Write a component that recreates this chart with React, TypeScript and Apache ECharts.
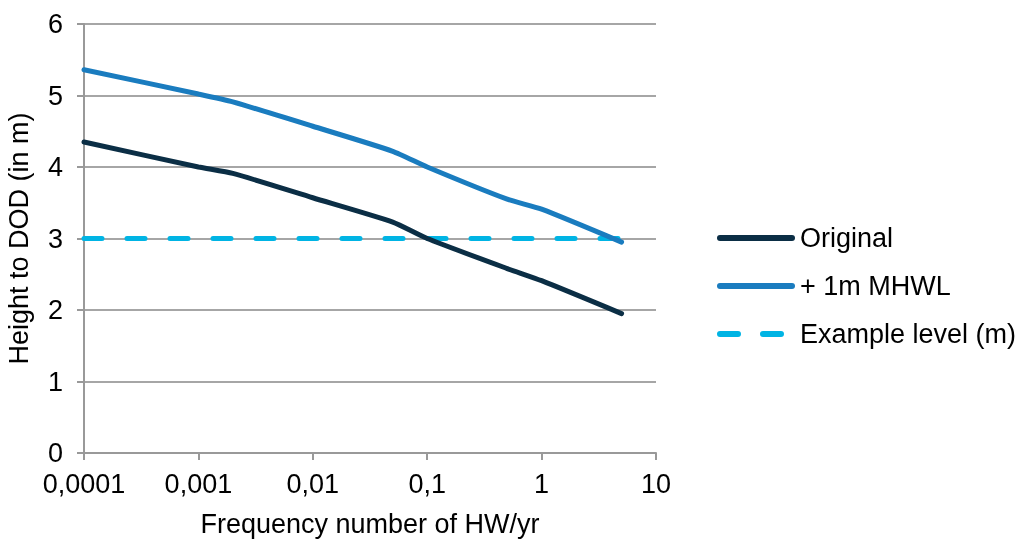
import React, { useEffect, useRef } from "react";
import * as echarts from "echarts";

const frequencies = [0.0001, 0.001, 0.002, 0.01, 0.05, 0.1, 0.5, 1, 5];
const originalHeights = [4.35, 4.0, 3.91, 3.57, 3.23, 3.0, 2.58, 2.41, 1.95];
const mhwlHeights = [5.36, 5.02, 4.91, 4.57, 4.22, 4.0, 3.55, 3.41, 2.95];
const exampleFrequencies = [0.0001, 5];
const exampleLevels = [3, 3];
const seriesNames = ["Original", "+ 1m MHWL", "Example level (m)"];
const xTitle = "Frequency number of HW/yr";
const yTitle = "Height to DOD (in m)";

const FONT = "Liberation Sans, Arial, sans-serif";
const FS = 27;

export default function App() {
  const ref = useRef<HTMLDivElement>(null);
  useEffect(() => {
    if (!ref.current) return;
    const chart = echarts.init(ref.current, null, { renderer: "svg" });
    const fmt = (v: number) => {
      const n = Number(v.toPrecision(6));
      return String(n).replace(".", ",");
    };
    chart.setOption({
      animation: false,
      textStyle: { fontFamily: FONT },
      grid: { left: 84, right: 366, top: 24, bottom: 86, outerBoundsMode: "none", containLabel: false },
      legend: {
        orient: "vertical",
        left: 712,
        top: 218,
        itemWidth: 72,
        itemHeight: 14,
        itemGap: 18,
        lineStyle: { width: 6, cap: "round" },
        itemStyle: { opacity: 0 },
        textStyle: { fontSize: FS, color: "#000", fontFamily: FONT, lineHeight: 30, padding: [0, 0, 0, 3] },
        data: [
          { name: seriesNames[0] },
          { name: seriesNames[1] },
          { name: seriesNames[2], lineStyle: { type: [18, 25], width: 6, cap: "round" } },
        ],
      },
      xAxis: {
        type: "log",
        logBase: 10,
        min: 0.0001,
        max: 10,
        name: xTitle,
        nameLocation: "middle",
        nameGap: 57,
        nameTextStyle: { fontSize: FS, color: "#000", fontFamily: FONT },
        axisLine: { show: true, lineStyle: { color: "#999", width: 2 } },
        axisTick: { show: true, length: 7, lineStyle: { color: "#999", width: 2 } },
        axisLabel: { fontSize: FS, color: "#000", fontFamily: FONT, margin: 17, formatter: fmt },
        splitLine: { show: false },
        minorTick: { show: false },
      },
      yAxis: {
        type: "value",
        min: 0,
        max: 6,
        interval: 1,
        name: yTitle,
        nameLocation: "middle",
        nameRotate: 90,
        nameGap: 52,
        nameTextStyle: { fontSize: FS, color: "#000", fontFamily: FONT },
        axisLine: { show: true, lineStyle: { color: "#999", width: 2 } },
        axisTick: { show: true, length: 7, lineStyle: { color: "#999", width: 2 } },
        axisLabel: { fontSize: FS, color: "#000", fontFamily: FONT, margin: 21 },
        splitLine: { show: true, lineStyle: { color: "#a6a6a6", width: 2 } },
      },
      series: [
        {
          name: seriesNames[0],
          type: "line",
          data: frequencies.map((f, i) => [f, originalHeights[i]]),
          symbol: "none",
          smooth: 0.2,
          lineStyle: { color: "#0b2e45", width: 5, cap: "round" },
          itemStyle: { color: "#0b2e45" },
          z: 3,
        },
        {
          name: seriesNames[1],
          type: "line",
          data: frequencies.map((f, i) => [f, mhwlHeights[i]]),
          symbol: "none",
          smooth: 0.2,
          lineStyle: { color: "#1a7cbf", width: 5, cap: "round" },
          itemStyle: { color: "#1a7cbf" },
          z: 3,
        },
        {
          name: seriesNames[2],
          type: "line",
          data: exampleFrequencies.map((f, i) => [f, exampleLevels[i]]),
          symbol: "none",
          lineStyle: { color: "#00b4e4", width: 5, type: [18, 25], cap: "round" },
          itemStyle: { color: "#00b4e4" },
          z: 2,
        },
      ],
    });
    return () => chart.dispose();
  }, []);
  return <div ref={ref} style={{ position: "fixed", left: 0, top: 0, width: 1022, height: 539 }} />;
}
